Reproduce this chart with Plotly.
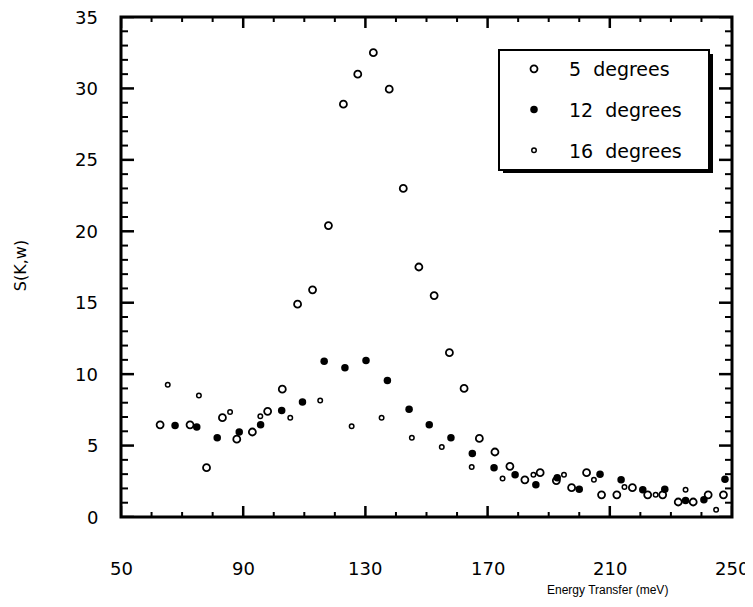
import plotly.graph_objects as go

# 5 degrees (open circles)
x5 = [62.8, 72.6, 78.0, 83.2, 87.9, 93.0, 98.0, 102.8, 107.8, 112.7, 117.9, 122.8, 127.5,
      132.6, 137.8, 142.4, 147.5, 152.5, 157.5, 162.3, 167.3, 172.4, 177.3, 182.2, 187.2,
      192.5, 197.5, 202.4, 207.3, 212.3, 217.4, 222.4, 227.3, 232.4, 237.3, 242.2, 247.2]
y5 = [6.45, 6.45, 3.45, 6.95, 5.45, 5.95, 7.4, 8.95, 14.9, 15.9, 20.4, 28.9, 31.0,
      32.5, 29.95, 23.0, 17.5, 15.5, 11.5, 9.0, 5.5, 4.55, 3.55, 2.6, 3.1,
      2.55, 2.05, 3.1, 1.55, 1.55, 2.05, 1.55, 1.55, 1.05, 1.05, 1.55, 1.55]

# 12 degrees (filled circles)
x12 = [67.7, 74.8, 81.5, 88.7, 95.7, 102.6, 109.4, 116.5, 123.3, 130.2, 137.2, 144.3,
       150.9, 158.0, 165.0, 172.1, 179.0, 185.8, 192.8, 200.0, 206.8, 213.7, 220.8,
       228.0, 234.8, 240.8, 247.7]
y12 = [6.4, 6.3, 5.55, 5.95, 6.45, 7.45, 8.05, 10.9, 10.45, 10.95, 9.55, 7.55,
       6.45, 5.55, 4.45, 3.45, 2.95, 2.25, 2.75, 1.95, 3.0, 2.6, 1.9,
       1.95, 1.15, 1.2, 2.65]

# 16 degrees (small open circles)
x16 = [65.3, 75.5, 85.7, 95.6, 105.4, 115.2, 125.5, 135.3, 145.2, 155.0, 164.8, 174.9,
       185.0, 195.0, 204.8, 214.8, 225.0, 234.8, 244.8]
y16 = [9.25, 8.5, 7.35, 7.05, 6.95, 8.15, 6.35, 6.95, 5.55, 4.9, 3.5, 2.7,
       2.95, 2.95, 2.6, 2.1, 1.55, 1.9, 0.5]

names = ["5  degrees", "12  degrees", "16  degrees"]
x_ticks = [50, 90, 130, 170, 210, 250]
y_ticks = [0, 5, 10, 15, 20, 25, 30, 35]
x_minor = [v for v in range(50, 251, 10) if v not in x_ticks]
y_minor = [v for v in range(0, 36, 1) if v not in y_ticks]
x_range = [50, 250]
y_range = [0, 35]

FONT = "DejaVu Sans, Liberation Sans, sans-serif"
TITLE_FONT = "Liberation Sans, Arial, sans-serif"

fig = go.Figure()
fig.add_trace(go.Scatter(
    x=x5, y=y5, mode="markers", name=names[0], legendgroup="a",
    marker=dict(symbol="circle-open", size=7, color="black", line=dict(width=1.8, color="black"))))
fig.add_trace(go.Scatter(
    x=x12, y=y12, mode="markers", name=names[1], legendgroup="b",
    marker=dict(symbol="circle", size=7.5, color="black")))
fig.add_trace(go.Scatter(
    x=x16, y=y16, mode="markers", name=names[2], legendgroup="c",
    marker=dict(symbol="circle-open", size=4.5, color="black", line=dict(width=1.5, color="black"))))

fig.update_xaxes(range=x_range, showgrid=False, zeroline=False, showline=False,
                 ticks="", showticklabels=False)
fig.update_yaxes(range=y_range, showgrid=False, zeroline=False, showline=False,
                 ticks="", showticklabels=False)

# plot-area pixel size, used to turn tick lengths in px into paper fractions
PW, PH = 611, 500

shapes = []
# frame
shapes.append(dict(type="rect", xref="paper", yref="paper", x0=0, x1=1, y0=0, y1=1,
                   line=dict(color="black", width=3), fillcolor="rgba(0,0,0,0)", layer="above"))
# x ticks (bottom and top, pointing inwards)
for vals, ln, w in ((x_ticks, 11, 2.5), (x_minor, 5, 2)):
    for v in vals:
        shapes.append(dict(type="line", xref="x", yref="paper", x0=v, x1=v, y0=0, y1=ln / PH,
                           line=dict(color="black", width=w), layer="above"))
        shapes.append(dict(type="line", xref="x", yref="paper", x0=v, x1=v, y0=1, y1=1 - ln / PH,
                           line=dict(color="black", width=w), layer="above"))
# y ticks (left and right, pointing inwards)
for vals, ln, w in ((y_ticks, 13, 2.5), (y_minor, 7, 2)):
    for v in vals:
        shapes.append(dict(type="line", xref="paper", yref="y", x0=0, x1=ln / PW, y0=v, y1=v,
                           line=dict(color="black", width=w), layer="above"))
        shapes.append(dict(type="line", xref="paper", yref="y", x0=1, x1=1 - ln / PW, y0=v, y1=v,
                           line=dict(color="black", width=w), layer="above"))

def px_x(p):
    return (p - 121) / 611

def px_y(p):
    return (517 - p) / 500

# legend box drop shadow and frame
shapes.append(dict(type="rect", xref="paper", yref="paper",
                   x0=px_x(503), x1=px_x(713), y0=px_y(173), y1=px_y(54),
                   fillcolor="black", line=dict(width=0), layer="above"))
shapes.append(dict(type="rect", xref="paper", yref="paper",
                   x0=px_x(499), x1=px_x(709), y0=px_y(170), y1=px_y(50),
                   fillcolor="white", line=dict(width=2, color="black"), layer="above"))

annotations = []
for v in x_ticks:
    annotations.append(dict(text=str(v), x=v, xref="x", y=-0.102, yref="paper",
                            xanchor="center", yanchor="middle", showarrow=False,
                            font=dict(family=FONT, size=18, color="black")))
for v in y_ticks:
    annotations.append(dict(text=str(v), x=-0.0344, xref="paper", y=v, yref="y",
                            xanchor="right", yanchor="middle", showarrow=False,
                            font=dict(family=FONT, size=18, color="black")))
annotations.append(dict(text="Energy Transfer (meV)", xref="paper", yref="paper",
                        x=(607 - 121) / 611, y=-0.146, xanchor="center", yanchor="middle",
                        showarrow=False, font=dict(family=TITLE_FONT, size=12, color="black")))
annotations.append(dict(text="S(K,w)", xref="paper", yref="paper", textangle=-90,
                        x=-0.165, y=0.502, xanchor="center", yanchor="middle",
                        showarrow=False, font=dict(family=FONT, size=16, color="black")))

# page body has an 8px margin; figure sized so the plot frame lands at x 121..732, y 17..517
fig.update_layout(
    width=745, height=599,
    margin=dict(l=113, r=21, t=9, b=90),
    paper_bgcolor="white", plot_bgcolor="rgba(0,0,0,0)",
    font=dict(family=FONT, color="black"),
    showlegend=True,
    legend=dict(
        x=px_x(499), y=px_y(50), xanchor="left", yanchor="top",
        bgcolor="rgba(0,0,0,0)", borderwidth=0,
        font=dict(family=FONT, size=19, color="black"),
        tracegroupgap=13, itemsizing="trace", itemwidth=60,
    ),
    shapes=shapes,
    annotations=annotations,
)

fig.write_html("out.html")
